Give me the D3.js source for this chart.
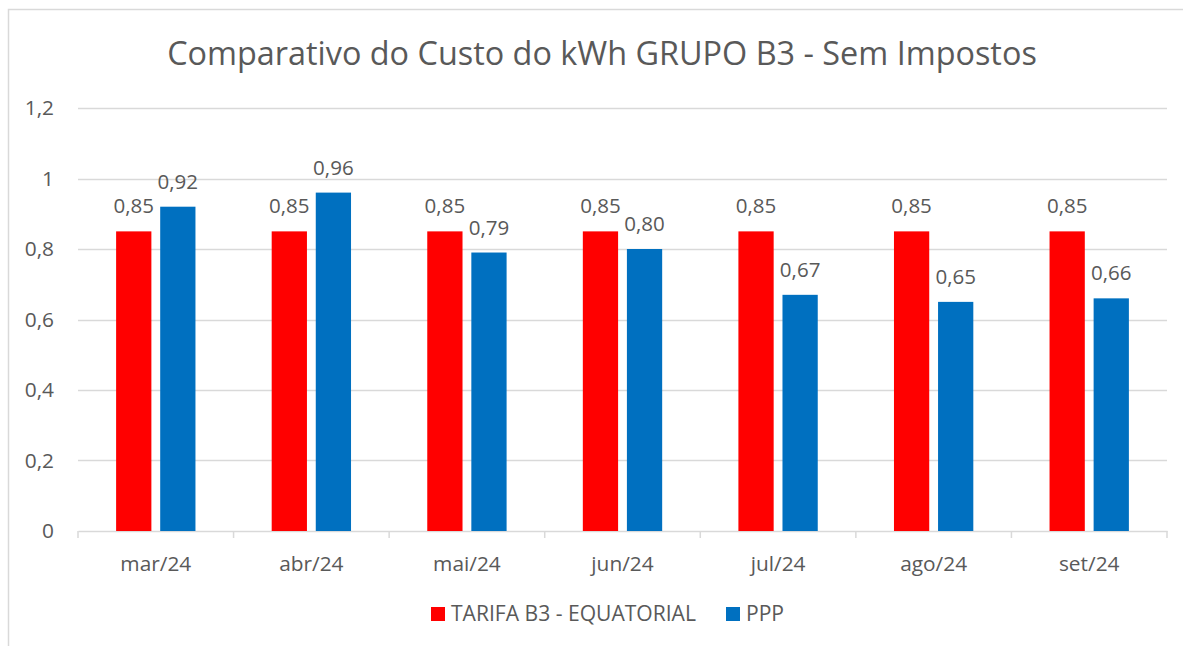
<!DOCTYPE html>
<html>
<head>
<meta charset="utf-8">
<script src="https://cdn.jsdelivr.net/npm/d3@7"></script>
<style>
  body { margin: 0; background: #fff; }
  text { font-family: "Open Sans", Lato, sans-serif; fill: #595959; }
</style>
</head>
<body>
<div class="core_div"></div>
<script>
// Chart data
var categories = ["mar/24", "abr/24", "mai/24", "jun/24", "jul/24", "ago/24", "set/24"];
var seriesNames = ["TARIFA B3 - EQUATORIAL", "PPP"];
var tarifaValues = [0.85, 0.85, 0.85, 0.85, 0.85, 0.85, 0.85];
var pppValues = [0.92, 0.96, 0.79, 0.80, 0.67, 0.65, 0.66];
var yTicks = [0, 0.2, 0.4, 0.6, 0.8, 1, 1.2];
var colors = ["#FF0000", "#0070C0"];

var width = 1183, height = 646;
var margin = {top: 108, right: 16, bottom: 115, left: 78};

var svg = d3.select(".core_div").append("svg")
    .attr("width", width)
    .attr("height", height);

// scale a text's font so it spans the given width
function fitFont(sel, target) {
  sel.style("font-size", "20px");
  var w = sel.node().getComputedTextLength();
  var fs = 20 * target / w;
  sel.style("font-size", fs + "px");
  return fs;
}

// chart frame
svg.append("path")
    .attr("d", "M8.5," + height + "V9.5H" + width)
    .attr("fill", "none")
    .attr("stroke", "#d9d9d9")
    .attr("stroke-width", 1.5);

// title
var title = svg.append("text")
    .attr("x", 602)
    .attr("y", 65)
    .attr("text-anchor", "middle")
    .text("Comparativo do Custo do kWh GRUPO B3 - Sem Impostos");
fitFont(title, 870);

var x = d3.scaleBand()
    .domain(categories)
    .range([margin.left, width - margin.right]);

var xInner = d3.scaleBand()
    .domain(seriesNames)
    .range([x.bandwidth() * 0.245, x.bandwidth() * 0.755])
    .paddingInner(0.2);

var y = d3.scaleLinear()
    .domain([0, 1.2])
    .range([height - margin.bottom, margin.top]);

var fmt = function(v) { return d3.format(".2f")(v).replace(".", ","); };
var fmtTick = function(v) { return String(+v.toFixed(1)).replace(".", ","); };

// gridlines
svg.append("g")
  .selectAll("line")
    .data(yTicks.slice(1))
  .enter().append("line")
    .attr("x1", margin.left)
    .attr("x2", width - margin.right)
    .attr("y1", function(d) { return Math.round(y(d)) + 0.5; })
    .attr("y2", function(d) { return Math.round(y(d)) + 0.5; })
    .attr("stroke", "#d9d9d9")
    .attr("stroke-width", 1.3);

// x axis (labels first, to measure the font size)
var xAxis = svg.append("g")
    .attr("transform", "translate(0," + y(0) + ")")
    .call(d3.axisBottom(x).tickSize(0).tickPadding(25));
xAxis.select(".domain").attr("stroke", "#d9d9d9").attr("stroke-width", 1.5);
var labelSize = fitFont(xAxis.select(".tick text"), 71);
xAxis.selectAll("text").style("font-size", labelSize + "px").attr("fill", "#595959");

// category separator ticks
xAxis.append("g")
  .selectAll("line")
    .data(categories.map(function(c) { return x(c); }).concat([width - margin.right]))
  .enter().append("line")
    .attr("x1", function(d) { return d; })
    .attr("x2", function(d) { return d; })
    .attr("y1", 0)
    .attr("y2", 7)
    .attr("stroke", "#d9d9d9")
    .attr("stroke-width", 1.5);

// y axis labels
var yAxis = svg.append("g")
    .attr("transform", "translate(" + margin.left + ",0)")
    .call(d3.axisLeft(y).tickValues(yTicks).tickFormat(fmtTick).tickSize(0).tickPadding(24));
yAxis.select(".domain").remove();
yAxis.selectAll("text").style("font-size", labelSize + "px").attr("fill", "#595959");

// bars
var rows = categories.map(function(c, i) {
  return {cat: c, values: [
    {name: seriesNames[0], value: tarifaValues[i], color: colors[0]},
    {name: seriesNames[1], value: pppValues[i], color: colors[1]}
  ]};
});

var groups = svg.append("g")
  .selectAll("g")
    .data(rows)
  .enter().append("g")
    .attr("transform", function(d) { return "translate(" + x(d.cat) + ",0)"; });

groups.selectAll("rect")
    .data(function(d) { return d.values; })
  .enter().append("rect")
    .attr("x", function(d) { return xInner(d.name); })
    .attr("y", function(d) { return y(d.value); })
    .attr("width", xInner.bandwidth())
    .attr("height", function(d) { return y(0) - y(d.value); })
    .attr("fill", function(d) { return d.color; });

var valueLabels = groups.selectAll("text")
    .data(function(d) { return d.values; })
  .enter().append("text")
    .attr("x", function(d) { return xInner(d.name) + xInner.bandwidth() / 2; })
    .attr("y", function(d) { return y(d.value) - 18; })
    .attr("text-anchor", "middle")
    .text(function(d) { return fmt(d.value); });
var valueSize = fitFont(d3.select(valueLabels.node()), 40.6);
valueLabels.style("font-size", valueSize + "px");

// legend
var legend = svg.append("g").attr("transform", "translate(431,614)");
var legendX = [0, 295];
seriesNames.forEach(function(name, i) {
  var g = legend.append("g").attr("transform", "translate(" + legendX[i] + ",0)");
  g.append("rect")
    .attr("x", 0).attr("y", -7)
    .attr("width", 14).attr("height", 14)
    .attr("fill", colors[i]);
  var t = g.append("text")
    .attr("x", 20)
    .attr("y", 7)
    .text(name);
  if (i === 0) fitFont(t, 245);
  else t.style("font-size", legend.select("text").style("font-size"));
});
</script>
</body>
</html>
